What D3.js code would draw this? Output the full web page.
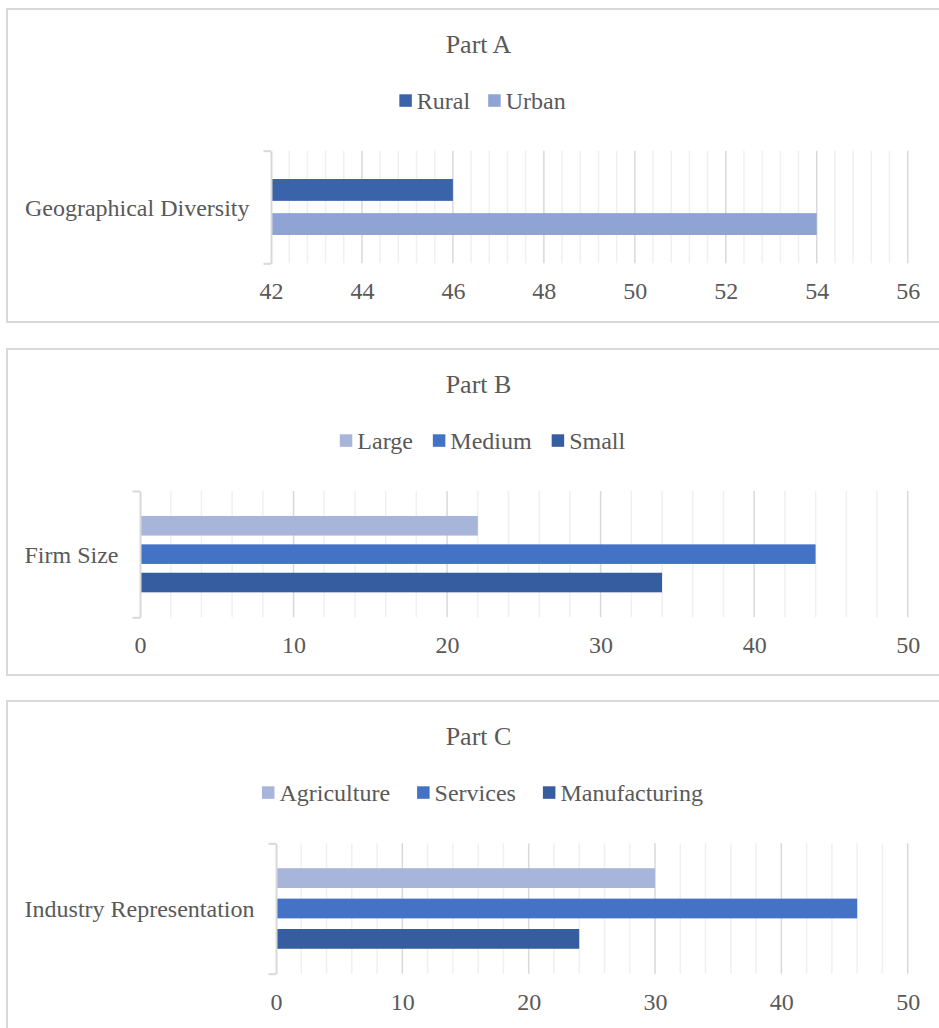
<!DOCTYPE html>
<html>
<head>
<meta charset="utf-8">
<script src="https://cdn.jsdelivr.net/npm/d3@7"></script>
<style>
  body { margin: 0; background: #fff; }
  text { font-family: "Liberation Serif", "Times New Roman", serif; fill: #595959; }
</style>
</head>
<body>
<div id="chart"></div>
<script>
// Part A
const geoCategories = ["Geographical Diversity"];
const geoSeries = ["Rural", "Urban"];
const geoValues = [46, 54];
const geoTicks = [42, 44, 46, 48, 50, 52, 54, 56];

// Part B
const firmCategories = ["Firm Size"];
const firmSeries = ["Large", "Medium", "Small"];
const firmValues = [22, 44, 34];
const firmTicks = [0, 10, 20, 30, 40, 50];

// Part C
const industryCategories = ["Industry Representation"];
const industrySeries = ["Agriculture", "Services", "Manufacturing"];
const industryValues = [30, 46, 24];
const industryTicks = [0, 10, 20, 30, 40, 50];

const width = 939;
const height = 1028;

const svg = d3.select("#chart").append("svg")
    .attr("width", width)
    .attr("height", height);

// Layout of each panel (pixels).
const panels = [
    {
        title: "Part A", categories: geoCategories, series: geoSeries, values: geoValues, ticks: geoTicks,
        colors: ["#3B63AA", "#8FA3D4"], minorStep: 0.4,
        box: { x: 7, y: 9, h: 313 }, titleY: 53, legendY: 100.5, legendGap: 18,
        plot: { left: 271, right: 907.7, top: 150.7, bottom: 263.3 },
        padInner: 0.36, padOuter: 0.83
    },
    {
        title: "Part B", categories: firmCategories, series: firmSeries, values: firmValues, ticks: firmTicks,
        colors: ["#A7B5DA", "#4472C4", "#355D9F"], minorStep: 2,
        box: { x: 7, y: 349, h: 326 }, titleY: 392.5, legendY: 440.5, legendGap: 20,
        plot: { left: 140, right: 907.7, top: 491, bottom: 617.3 },
        padInner: 0.31, padOuter: 0.88
    },
    {
        title: "Part C", categories: industryCategories, series: industrySeries, values: industryValues, ticks: industryTicks,
        colors: ["#A7B5DA", "#4472C4", "#355D9F"], minorStep: 2,
        box: { x: 7, y: 701, h: 340 }, titleY: 745, legendY: 792.5, legendGap: 27,
        plot: { left: 276, right: 907.7, top: 843.3, bottom: 973.7 },
        padInner: 0.35, padOuter: 0.82
    }
];

const drawPanel = (p) => {
    const g = svg.append("g");

    // Chart border (right side runs past the window, as in the reference).
    g.append("rect")
        .attr("x", p.box.x)
        .attr("y", p.box.y)
        .attr("width", 948)
        .attr("height", p.box.h)
        .attr("fill", "#fff")
        .attr("stroke", "#D9D9D9")
        .attr("stroke-width", 2);

    // Scales.
    const x = d3.scaleLinear()
        .domain([p.ticks[0], p.ticks[p.ticks.length - 1]])
        .range([p.plot.left, p.plot.right]);

    const yCat = d3.scaleBand()
        .domain(p.categories)
        .range([p.plot.top, p.plot.bottom]);

    const ySer = d3.scaleBand()
        .domain(p.series)
        .range([0, yCat.bandwidth()])
        .paddingInner(p.padInner)
        .paddingOuter(p.padOuter);

    const color = d3.scaleOrdinal().domain(p.series).range(p.colors);

    // Title.
    g.append("text")
        .attr("x", 478.5)
        .attr("y", p.titleY)
        .attr("text-anchor", "middle")
        .style("font-size", "26px")
        .text(p.title);

    // Minor and major vertical gridlines.
    const [d0, d1] = x.domain();
    const minor = d3.range(d0, d1 + 1e-9, p.minorStep).filter(v => !p.ticks.some(t => Math.abs(t - v) < 1e-6));
    g.append("g").selectAll("line")
        .data(minor)
        .join("line")
        .attr("x1", d => x(d)).attr("x2", d => x(d))
        .attr("y1", p.plot.top).attr("y2", p.plot.bottom)
        .attr("stroke", "#F0F0F0")
        .attr("stroke-width", 1.5);

    g.append("g").selectAll("line")
        .data(p.ticks.slice(1))
        .join("line")
        .attr("x1", d => x(d)).attr("x2", d => x(d))
        .attr("y1", p.plot.top).attr("y2", p.plot.bottom)
        .attr("stroke", "#D9D9D9")
        .attr("stroke-width", 1.5);

    // Bars.
    const rows = p.series.map((s, i) => ({ category: p.categories[0], series: s, value: p.values[i] }));
    g.append("g").selectAll("rect")
        .data(rows)
        .join("rect")
        .attr("x", x(d0))
        .attr("y", d => yCat(d.category) + ySer(d.series))
        .attr("width", d => x(d.value) - x(d0))
        .attr("height", ySer.bandwidth())
        .attr("fill", d => color(d.series));

    // Category axis: line with outward bracket ticks.
    const yAxis = d3.axisLeft(d3.scaleLinear().domain([0, 1]).range([p.plot.top, p.plot.bottom]))
        .tickValues([0, 1])
        .tickSize(7.5)
        .tickSizeOuter(0)
        .tickFormat("");
    const ya = g.append("g")
        .attr("transform", `translate(${x(d0)},0)`)
        .call(yAxis);
    ya.selectAll("path, line").attr("stroke", "#D9D9D9").attr("stroke-width", 2);

    g.append("g").selectAll("text")
        .data(p.categories)
        .join("text")
        .attr("x", x(d0) - 21.5)
        .attr("y", d => yCat(d) + yCat.bandwidth() / 2)
        .attr("dy", "0.36em")
        .attr("text-anchor", "end")
        .style("font-size", "24px")
        .text(d => d);

    // Value axis labels.
    const xAxis = d3.axisBottom(x).tickValues(p.ticks).tickSize(0).tickPadding(0);
    const xa = g.append("g")
        .attr("transform", `translate(0,${p.plot.bottom})`)
        .call(xAxis);
    xa.select(".domain").remove();
    xa.selectAll("text")
        .attr("y", 36)
        .attr("dy", 0)
        .attr("fill", "#595959")
        .style("font-family", "'Liberation Serif', 'Times New Roman', serif")
        .style("font-size", "24px");

    // Legend, centred.
    const legend = g.append("g");
    const items = legend.selectAll("g")
        .data(p.series)
        .join("g");
    items.append("rect")
        .attr("width", 12.5)
        .attr("height", 12.5)
        .attr("y", -6.2)
        .attr("fill", d => color(d));
    items.append("text")
        .attr("x", 17.5)
        .attr("dy", "0.36em")
        .style("font-size", "24px")
        .text(d => d);
    let cx = 0;
    items.each(function () {
        const w = 17.5 + d3.select(this).select("text").node().getComputedTextLength();
        d3.select(this).attr("transform", `translate(${cx},0)`);
        cx += w + p.legendGap;
    });
    const total = cx - p.legendGap;
    legend.attr("transform", `translate(${482.5 - total / 2},${p.legendY})`);
};

panels.forEach(drawPanel);
</script>
</body>
</html>
